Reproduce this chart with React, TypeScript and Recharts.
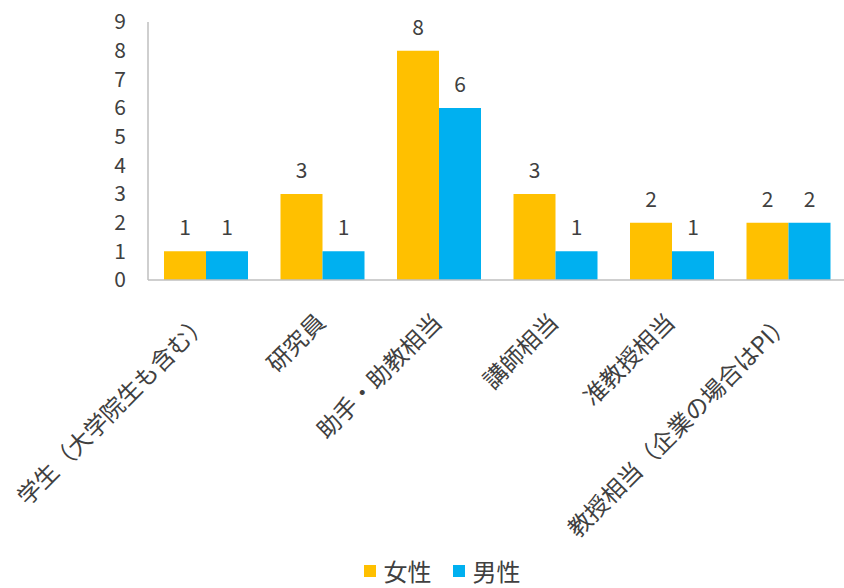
import React from "react";
import { BarChart, Bar, XAxis, YAxis, Legend, LabelList } from "recharts";

const categories = [
  "学生（大学院生も含む）",
  "研究員",
  "助手・助教相当",
  "講師相当",
  "准教授相当",
  "教授相当（企業の場合はPI）",
];
const female = [1, 3, 8, 3, 2, 2];
const male = [1, 1, 6, 1, 1, 2];
const yTicks = [0, 1, 2, 3, 4, 5, 6, 7, 8, 9];

const seriesNames = { female: "女性", male: "男性" };
const colors = { female: "#FFC000", male: "#00B0F0" };

const data = categories.map((c, i) => ({ name: c, female: female[i], male: male[i] }));

const FONT = '"Noto Sans CJK JP", "Noto Sans", sans-serif';
const TEXT = "#404040";

const XTick = (props: any) => {
  const { x, y, payload } = props;
  const ax = x + 4;
  const ay = y + 36;
  return (
    <text
      x={ax}
      y={ay}
      textAnchor="end"
      fontSize={23.5}
      fontFamily={FONT}
      fill={TEXT}
      transform={`rotate(-45, ${ax}, ${ay})`}
    >
      {payload.value}
    </text>
  );
};

const LegendContent = () => (
  <div
    style={{
      display: "flex",
      justifyContent: "center",
      alignItems: "center",
      fontFamily: FONT,
      fontSize: 24,
      color: TEXT,
      lineHeight: "30px",
      paddingLeft: 40,
    }}
  >
    {(["female", "male"] as const).map((k, i) => (
      <div key={k} style={{ display: "flex", alignItems: "center", marginLeft: i === 0 ? 0 : 21 }}>
        <span style={{ display: "inline-block", width: 12, height: 12, background: colors[k], marginRight: 8 }} />
        <span>{seriesNames[k]}</span>
      </div>
    ))}
  </div>
);

export default function App() {
  return (
    <div
      style={{
        position: "absolute",
        left: 0,
        top: 0,
        width: 844,
        height: 588,
        overflow: "hidden",
        background: "#fff",
      }}
    >
      <BarChart
        width={850}
        height={588}
        data={data}
        margin={{ top: 22, right: 3, bottom: 0, left: 0 }}
        barCategoryGap={16}
        barGap={0}
      >
        <XAxis
          dataKey="name"
          axisLine={{ stroke: "#BFBFBF", strokeWidth: 1.5 }}
          tickLine={false}
          tick={<XTick />}
          interval={0}
          height={308}
        />
        <YAxis
          domain={[0, 9]}
          ticks={yTicks}
          interval={0}
          width={148}
          axisLine={{ stroke: "#BFBFBF", strokeWidth: 1.5 }}
          tickLine={false}
          tickSize={0}
          tickMargin={22}
          tick={{ fill: TEXT, fontSize: 21, fontFamily: FONT }}
        />
        <Legend
          verticalAlign="middle"
          layout="horizontal"
          align="center"
          wrapperStyle={{ top: 556, left: 0, width: 844 }}
          content={<LegendContent />}
        />
        <Bar dataKey="female" name={seriesNames.female} fill={colors.female} isAnimationActive={false}>
          <LabelList dataKey="female" position="top" offset={16} fill={TEXT} fontSize={21} fontFamily={FONT} />
        </Bar>
        <Bar dataKey="male" name={seriesNames.male} fill={colors.male} isAnimationActive={false}>
          <LabelList dataKey="male" position="top" offset={16} fill={TEXT} fontSize={21} fontFamily={FONT} />
        </Bar>
      </BarChart>
    </div>
  );
}
